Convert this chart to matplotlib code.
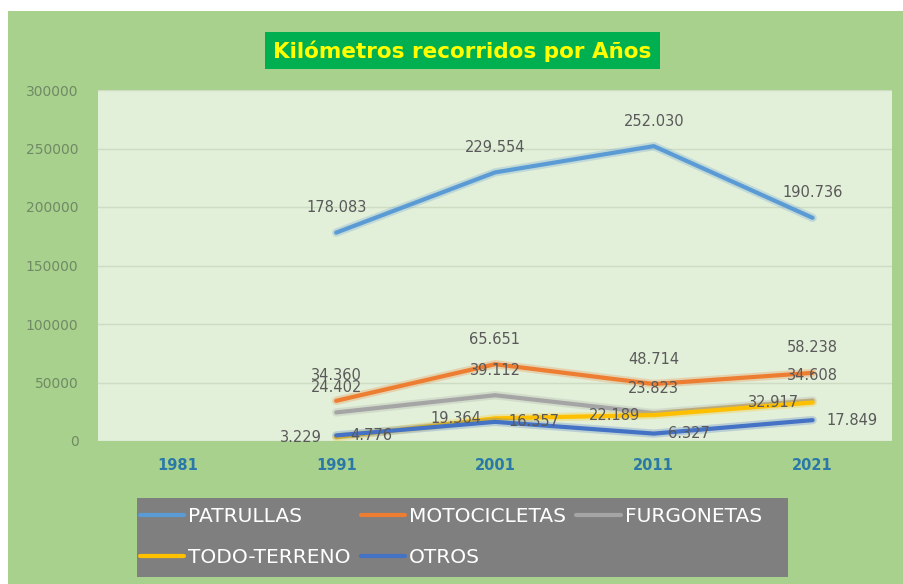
import matplotlib.pyplot as plt
import matplotlib.patheffects as pe
from matplotlib.patches import Rectangle

# kilometres per vehicle type and census year
years = ["1981", "1991", "2001", "2011", "2021"]
patrullas = [None, 178083, 229554, 252030, 190736]
motocicletas = [None, 34360, 65651, 48714, 58238]
furgonetas = [None, 24402, 39112, 23823, 34608]
todo_terreno = [None, 3229, 19364, 22189, 32917]
otros = [None, 4776, 16357, 6327, 17849]

series = [
    ("PATRULLAS", patrullas, "#5b9bd5", "above"),
    ("MOTOCICLETAS", motocicletas, "#ed7d31", "above"),
    ("FURGONETAS", furgonetas, "#a5a5a5", "above"),
    ("TODO-TERRENO", todo_terreno, "#ffc000", "left"),
    ("OTROS", otros, "#4472c4", "right"),
]

W, H = 904, 584
fig = plt.figure(figsize=(W / 100, H / 100), dpi=100, facecolor="white")


def box(x, y, w, h, color, z):
    # rectangle given in pixels from the top-left corner
    fig.patches.append(Rectangle((x / W, 1 - (y + h) / H), w / W, h / H, transform=fig.transFigure,
                                 facecolor=color, edgecolor="none", zorder=z))


# green chart area with a thin white margin on the top and left
box(8, 11, W - 8, H - 11, "#a9d18e", -10)

x0, x1, ytop, ybot = 98, 892, 90, 441
ax = fig.add_axes([x0 / W, 1 - ybot / H, (x1 - x0) / W, (ybot - ytop) / H])
ax.set_facecolor("#e2efd9")
for s in ax.spines.values():
    s.set_visible(False)

xs = list(range(len(years)))
lines = {}
for name, vals, col, pos in series:
    px = [x for x, v in zip(xs, vals) if v is not None]
    py = [v for v in vals if v is not None]
    ln, = ax.plot(px, py, color=col, lw=3, label=name, solid_capstyle="round", zorder=3,
                  path_effects=[pe.Stroke(linewidth=6, foreground=col, alpha=0.25), pe.Normal()])
    lines[name] = ln

for name, vals, col, pos in series:
    for x, v in zip(xs, vals):
        if v is None:
            continue
        txt = f"{v:,}".replace(",", ".")
        if pos == "above":
            off, ha, va = (0, 18), "center", "center"
        elif pos == "left":
            off, ha, va = (-10, 0), "right", "center"
        else:
            off, ha, va = (10, 0), "left", "center"
        ax.annotate(txt, (x, v), xytext=off, textcoords="offset points", ha=ha, va=va,
                    fontsize=10.5, color="#595959", zorder=5)

ax.set_xlim(-0.5, len(years) - 0.5)
ax.set_ylim(0, 300000)
ax.set_yticks(range(0, 300001, 50000))
ax.set_yticklabels([str(t) for t in range(0, 300001, 50000)], fontsize=10, color="#6f8a64")
ax.set_xticks(xs)
ax.set_xticklabels(years, fontsize=10.5, fontweight="bold", color="#2a78a8")
ax.tick_params(axis="y", length=0, pad=14)
ax.tick_params(axis="x", length=0, pad=12)
ax.grid(axis="y", color="#cddcc3", lw=1)
ax.set_axisbelow(True)

# title box
box(265, 32, 395, 37, "#00b050", 1)
fig.text(462 / W, 1 - 51 / H, "Kilómetros recorridos por Años", ha="center", va="center",
         fontsize=15.5, fontweight="bold", color="#ffff00", zorder=2)

# legend panel, entries filled column by column so order them to read row by row
box(137, 498, 651, 79, "#7f7f7f", 1)
order = ["PATRULLAS", "TODO-TERRENO", "MOTOCICLETAS", "OTROS", "FURGONETAS"]
leg = fig.legend([lines[n] for n in order], order,
                 loc="upper left", bbox_to_anchor=(140 / W, 1 - 507 / H), ncol=3,
                 frameon=False, labelcolor="white", prop={"size": 14.5},
                 handlelength=2.2, handletextpad=0.2, columnspacing=0.5,
                 borderpad=0, labelspacing=1.1, borderaxespad=0)
leg.set_zorder(2)
for h in leg.legend_handles:
    h.set_linewidth(3)
    h.set_path_effects([])

fig.savefig("out.png", dpi=100, facecolor=fig.get_facecolor())
